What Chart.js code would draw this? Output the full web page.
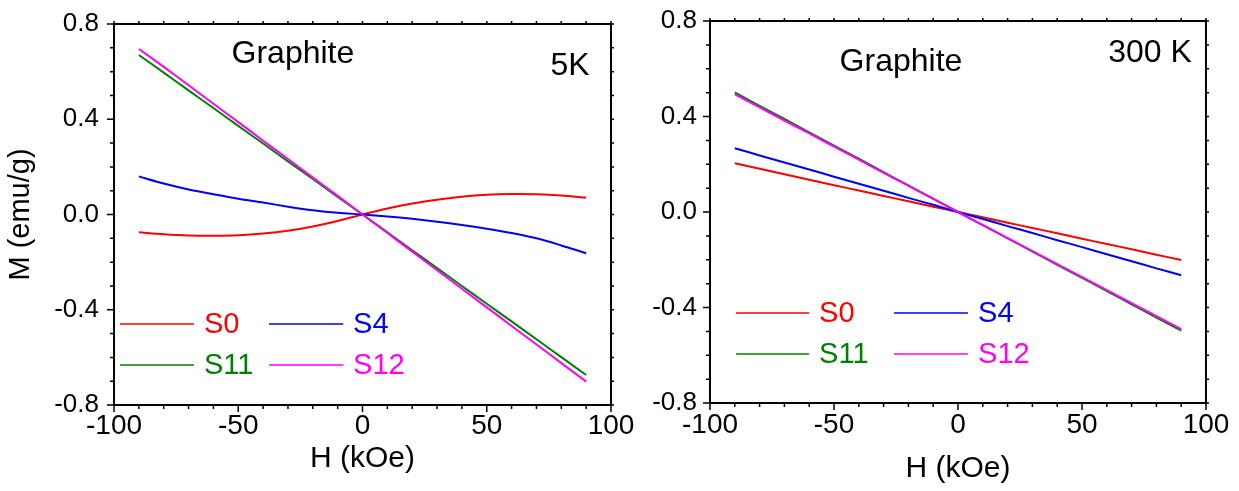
<!DOCTYPE html>
<html lang="en">
<head>
    <meta charset="UTF-8">
    <title>Graphite M-H</title>
    <style>
        body {
            margin: 0;
            background-color: #fff;
        }
        .panel {
            position: absolute;
            top: 0;
        }
        #left { left: 0; }
        #right { left: 630px; }
    </style>
</head>
<body>
    <div class="panel" id="left"><canvas id="chart-5k" width="640" height="491"></canvas></div>
    <div class="panel" id="right"><canvas id="chart-300k" width="609" height="491"></canvas></div>

    <script src="https://cdn.jsdelivr.net/npm/chart.js"></script>

    <script>
        // field (kOe)
        const fieldH = [-90, -80, -70, -60, -50, -40, -30, -20, -10, 0, 10, 20, 30, 40, 50, 60, 70, 80, 90];

        // magnetization (emu/g) at 5 K
        const s0_5K  = [-0.075, -0.083, -0.088, -0.089, -0.087, -0.080, -0.068, -0.050, -0.027, 0, 0.025, 0.046, 0.062, 0.075, 0.083, 0.086, 0.085, 0.080, 0.071];
        const s4_5K  = [0.160, 0.130, 0.105, 0.085, 0.066, 0.050, 0.033, 0.018, 0.007, 0, -0.008, -0.018, -0.030, -0.044, -0.060, -0.078, -0.100, -0.130, -0.163];
        const s11_5K = [0.670, 0.596, 0.521, 0.447, 0.372, 0.298, 0.223, 0.149, 0.074, 0, -0.075, -0.150, -0.225, -0.300, -0.375, -0.449, -0.524, -0.599, -0.674];
        const s12_5K = [0.695, 0.620, 0.543, 0.465, 0.388, 0.310, 0.233, 0.155, 0.078, 0, -0.078, -0.156, -0.234, -0.312, -0.390, -0.468, -0.546, -0.624, -0.702];

        // magnetization (emu/g) at 300 K
        const s0_300K  = [0.204, 0.181, 0.158, 0.135, 0.112, 0.090, 0.067, 0.045, 0.022, 0, -0.022, -0.045, -0.067, -0.089, -0.112, -0.134, -0.156, -0.179, -0.201];
        const s4_300K  = [0.267, 0.237, 0.207, 0.178, 0.148, 0.118, 0.089, 0.059, 0.030, 0, -0.029, -0.059, -0.088, -0.118, -0.147, -0.177, -0.206, -0.236, -0.265];
        const s11_300K = [0.501, 0.445, 0.390, 0.334, 0.278, 0.223, 0.167, 0.111, 0.056, 0, -0.055, -0.110, -0.166, -0.221, -0.276, -0.331, -0.387, -0.442, -0.497];
        const s12_300K = [0.493, 0.438, 0.383, 0.329, 0.274, 0.219, 0.164, 0.110, 0.055, 0, -0.055, -0.109, -0.164, -0.218, -0.273, -0.327, -0.382, -0.436, -0.491];

        const sampleNames = ['S0', 'S4', 'S11', 'S12'];
        const sampleColors = ['#ff0000', '#0000ff', '#008000', '#ff00ff'];
        const drawOrder = [2, 1, 3, 0];

        const FONT = "'Liberation Sans', Arial, sans-serif";

        function toPoints(ys) {
            return fieldH.map((h, i) => ({ x: h, y: ys[i] }));
        }

        // box with outward ticks on all four sides
        const framePlugin = {
            id: 'frame',
            afterDatasetsDraw(chart) {
                const { ctx, chartArea: a, scales: { x, y } } = chart;
                ctx.save();
                ctx.strokeStyle = '#000';
                ctx.lineWidth = 2;
                ctx.strokeRect(a.left, a.top, a.right - a.left, a.bottom - a.top);
                ctx.lineWidth = 1.5;
                ctx.beginPath();
                x.ticks.forEach(t => {
                    const px = x.getPixelForValue(t.value);
                    const len = t.value % 50 === 0 ? 7 : 4;
                    ctx.moveTo(px, a.bottom);
                    ctx.lineTo(px, a.bottom + len);
                    ctx.moveTo(px, a.top);
                    ctx.lineTo(px, a.top - 3);
                });
                y.ticks.forEach(t => {
                    const py = y.getPixelForValue(t.value);
                    const len = Math.round(t.value * 10) % 4 === 0 ? 7 : 4;
                    ctx.moveTo(a.left, py);
                    ctx.lineTo(a.left - len, py);
                    ctx.moveTo(a.right, py);
                    ctx.lineTo(a.right + 3, py);
                });
                ctx.stroke();
                ctx.restore();
            }
        };

        // labels inside the plot + legend in two columns
        const notesPlugin = {
            id: 'notes',
            afterDraw(chart, args, opts) {
                const { ctx, scales: { x, y } } = chart;
                ctx.save();
                ctx.textBaseline = 'middle';
                opts.texts.forEach(t => {
                    ctx.font = t.size + 'px ' + FONT;
                    ctx.fillStyle = '#000';
                    ctx.textAlign = 'center';
                    ctx.fillText(t.text, x.getPixelForValue(t.h), y.getPixelForValue(t.m));
                });
                ctx.font = '29px ' + FONT;
                ctx.textAlign = 'left';
                ctx.lineWidth = 1.5;
                chart.data.datasets.forEach((ds, i) => {
                    const col = opts.legend.cols[i % 2];
                    const py = y.getPixelForValue(opts.legend.rows[Math.floor(i / 2)]);
                    ctx.strokeStyle = ds.borderColor;
                    ctx.beginPath();
                    ctx.moveTo(x.getPixelForValue(col[0]), py);
                    ctx.lineTo(x.getPixelForValue(col[1]), py);
                    ctx.stroke();
                    ctx.fillStyle = ds.borderColor;
                    ctx.fillText(ds.label, x.getPixelForValue(col[2]), py + 1);
                });
                ctx.restore();
            }
        };

        // invisible tick marks used only as spacing, so the layout doesn't add label padding
        function spacerGrid(len) {
            return {
                display: true,
                drawOnChartArea: false,
                drawTicks: true,
                tickLength: len,
                tickColor: 'rgba(0,0,0,0)'
            };
        }

        function makeChart(id, series, cfg) {
            const ctx = document.getElementById(id).getContext('2d');
            return new Chart(ctx, {
                type: 'line',
                data: {
                    datasets: series.map((ys, i) => ({
                        label: sampleNames[i],
                        data: toPoints(ys),
                        borderColor: sampleColors[i],
                        borderWidth: 2,
                        pointRadius: 0,
                        tension: 0.3,
                        fill: false,
                        order: drawOrder[i]
                    }))
                },
                options: {
                    responsive: false,
                    animation: false,
                    layout: {
                        padding: { top: cfg.padTop, right: cfg.padRight, left: 0, bottom: 0 }
                    },
                    scales: {
                        x: {
                            type: 'linear',
                            min: -100,
                            max: 100,
                            grid: spacerGrid(cfg.xTickGap),
                            border: { display: false },
                            ticks: {
                                stepSize: 10,
                                autoSkip: false,
                                maxRotation: 0,
                                padding: 0,
                                color: '#000',
                                font: { family: FONT, size: 28 },
                                callback: v => v % 50 === 0 ? String(v) : ''
                            },
                            title: {
                                display: true,
                                text: 'H (kOe)',
                                color: '#000',
                                font: { family: FONT, size: 30 },
                                padding: { top: 0, bottom: cfg.xTitlePad }
                            },
                            afterFit: s => { s.height = cfg.xHeight; }
                        },
                        y: {
                            type: 'linear',
                            min: -0.8,
                            max: 0.8,
                            grid: spacerGrid(cfg.yTickGap),
                            border: { display: false },
                            ticks: {
                                stepSize: 0.1,
                                autoSkip: false,
                                padding: 2,
                                color: '#000',
                                font: { family: FONT, size: 26 },
                                callback: v => {
                                    const r = Math.round(v * 10);
                                    return r % 4 === 0 ? (r / 10).toFixed(1) : '';
                                }
                            },
                            title: {
                                display: cfg.yTitle,
                                text: 'M (emu/g)',
                                color: '#000',
                                font: { family: FONT, size: 29 },
                                padding: { top: 4, bottom: 0 }
                            },
                            afterFit: s => { s.width = cfg.yWidth; }
                        }
                    },
                    plugins: {
                        legend: { display: false },
                        tooltip: { enabled: false },
                        notes: { texts: cfg.texts, legend: cfg.legend }
                    }
                },
                plugins: [framePlugin, notesPlugin]
            });
        }

        makeChart('chart-5k', [s0_5K, s4_5K, s11_5K, s12_5K], {
            padTop: 24, padRight: 29, xHeight: 86, yWidth: 114,
            xTickGap: 4, xTitlePad: 14, yTickGap: 13, yTitle: true,
            texts: [
                { text: 'Graphite', h: -28, m: 0.675, size: 32 },
                { text: '5K', h: 83.5, m: 0.624, size: 32 }
            ],
            legend: {
                rows: [-0.46, -0.632],
                cols: [[-97.6, -67.8, -63.8], [-37.6, -7.8, -3.8]]
            }
        });

        makeChart('chart-300k', [s0_300K, s4_300K, s11_300K, s12_300K], {
            padTop: 21, padRight: 33, xHeight: 88, yWidth: 80,
            xTickGap: 5, xTitlePad: 4, yTickGap: 11, yTitle: false,
            texts: [
                { text: 'Graphite', h: -23, m: 0.628, size: 32 },
                { text: '300 K', h: 77.4, m: 0.666, size: 32 }
            ],
            legend: {
                rows: [-0.423, -0.595],
                cols: [[-89.5, -60.1, -56], [-25.8, 4.0, 8.1]]
            }
        });
    </script>
</body>
</html>
